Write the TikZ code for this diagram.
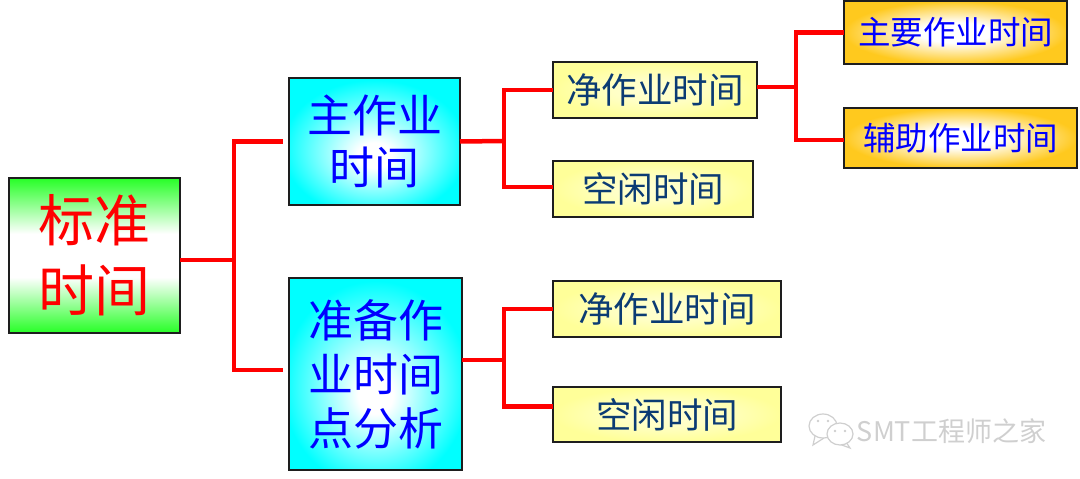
\documentclass[tikz,border=0pt]{standalone}
\usepackage{fontspec}
\newfontfamily\cjkfont{Noto Sans CJK SC}
\usetikzlibrary{calc}
\definecolor{boxline}{HTML}{1E1E1E}
\definecolor{paleyellow}{HTML}{FFFF99}
\definecolor{navytext}{HTML}{0B3B73}
\definecolor{deeporange}{HTML}{FFC91E}
\definecolor{markgray}{HTML}{CFCFCF}
\pgfdeclareverticalshading{greenband}{100bp}{color(0bp)=(green!85!white);color(25bp)=(green!85!white);color(43bp)=(white);color(57bp)=(white);color(75bp)=(green!85!white);color(100bp)=(green!85!white)}
\pgfdeclareradialshading{cyanglow}{\pgfpoint{0bp}{-6bp}}{color(0bp)=(white);color(5bp)=(white);color(27bp)=(cyan);color(50bp)=(cyan)}
\pgfdeclareradialshading{orangeglow}{\pgfpoint{0bp}{0bp}}{color(0bp)=(white);color(8bp)=(white);color(25bp)=(deeporange);color(50bp)=(deeporange)}
\pgfdeclareradialshading{yellowglow}{\pgfpoint{0bp}{0bp}}{color(0bp)=(paleyellow!45!white);color(10bp)=(paleyellow!55!white);color(25bp)=(paleyellow);color(50bp)=(paleyellow)}
\tikzset{
	box/.style={draw=boxline, line width=1.6pt, inner sep=0pt, outer sep=0pt, align=center},
	rootbox/.style={box, shading=greenband, text=red, font=\cjkfont\fontsize{56}{70}\selectfont},
	mainbox/.style={box, shading=cyanglow, text=blue, font=\cjkfont\fontsize{45}{54}\selectfont},
	workbox/.style={box, shading=yellowglow, text=navytext, font=\cjkfont\fontsize{35.5}{40}\selectfont},
	topbox/.style={box, shading=orangeglow, text=blue, font=\cjkfont\fontsize{32.5}{38}\selectfont},
	link/.style={draw=red, line width=4.5pt},
	bubble/.style={draw=markgray, line width=1.2pt, fill=white}
}
\begin{document}
\begin{tikzpicture}[x=1pt, y=-1pt]
	\useasboundingbox (0,0) rectangle (1080,479);

	% left column
	\node[rootbox, minimum width=171pt, minimum height=155pt] (biaozhun) at (94.5,255.5) {标准\\时间};

	% second column
	\node[mainbox, font=\cjkfont\fontsize{45}{52}\selectfont, minimum width=171pt, minimum height=127pt] (zhuzuoye) at (374.5,141.5) {主作业\\时间};
	\node[mainbox, minimum width=173pt, minimum height=192pt] (zhunbei) at (375.5,374) {准备作\\业时间\\点分析};

	% third column
	\node[workbox, minimum width=204pt, minimum height=56pt] (jing1) at (655,90) {净作业时间};
	\node[workbox, minimum width=200pt, minimum height=56pt] (kong1) at (653,189) {空闲时间};
	\node[workbox, minimum width=228pt, minimum height=56pt] (jing2) at (667,309) {净作业时间};
	\node[workbox, minimum width=228pt, minimum height=55pt] (kong2) at (667,414.5) {空闲时间};

	% right column
	\node[topbox, minimum width=223pt, minimum height=63pt] (zhuyao) at (955.5,32.5) {主要作业时间};
	\node[topbox, minimum width=233pt, minimum height=60pt] (fuzhu) at (960.5,138) {辅助作业时间};

	% junctions of the tree
	\coordinate (fork1) at (234,260);
	\coordinate (fork2) at (504,141);
	\coordinate (fork3) at (504,360);
	\coordinate (fork4) at (796,87);

	\draw[link] ([yshift=-4.5pt]biaozhun.east) -- (fork1);
	\draw[link, shorten >=6pt] (fork1) |- (zhuzuoye.west);
	\draw[link, shorten >=6pt] (fork1) |- ([yshift=4pt]zhunbei.west);

	\draw[link] (zhuzuoye.east) -- (fork2);
	\draw[link] (fork2) |- (jing1.west);
	\draw[link] (fork2) |- ([yshift=2pt]kong1.west);

	\draw[link] ([yshift=14pt]zhunbei.east) -- (fork3);
	\draw[link] (fork3) |- (jing2.west);
	\draw[link] (fork3) |- ([yshift=8pt]kong2.west);

	\draw[link] ([yshift=3pt]jing1.east) -- (fork4);
	\draw[link] (fork4) |- (zhuyao.west);
	\draw[link] (fork4) |- ([yshift=-2pt]fuzhu.west);

	% chat bubbles and name at the lower right
	\draw[bubble] (815,436) -- (813,445) -- (824,438);
	\draw[bubble] (823,426) ellipse (14 and 12);
	\draw[bubble] (846,442) -- (850,448) -- (839,444);
	\draw[bubble] (840,434) ellipse (13 and 11);
	\fill[markgray] (818,421) circle (1.3) (828,421) circle (1.3) (835,431) circle (1.3) (845,431) circle (1.3);
	\node[text=markgray, font=\cjkfont\fontsize{27}{30}\selectfont, inner sep=0pt] (mark) at (951.5,431) {SMT工程师之家};
\end{tikzpicture}
\end{document}
